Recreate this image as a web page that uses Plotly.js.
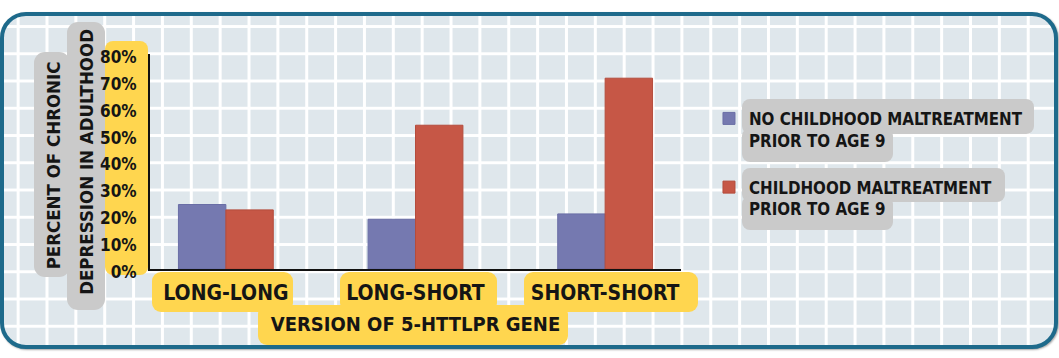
<!DOCTYPE html>
<html>
<head>
<meta charset="utf-8">
<script src="https://cdn.plot.ly/plotly-3.0.1.min.js"></script>
<style>
  html, body { margin: 0; padding: 0; background: #ffffff; }
  #wrap { position: relative; width: 1059px; height: 358px; overflow: hidden; background: #ffffff; }
  #frame {
    position: absolute; left: 0px; top: 12px; width: 1050px; height: 329px;
    border: 4px solid #1e6a8b; border-radius: 26px;
    box-shadow: 1px 1px 2px rgba(0,0,0,0.35);
    background-color: #dfe7ec;
    background-image:
      linear-gradient(to right, #ffffff 0px, #ffffff 2.5px, rgba(255,255,255,0) 2.5px),
      linear-gradient(to bottom, #ffffff 0px, #ffffff 2.5px, rgba(255,255,255,0) 2.5px);
    background-size: 28.86px 100%, 100% 27.25px;
    background-position: 12.65px 0px, 0px 9.05px;
  }
  .box { position: absolute; border-radius: 9px; }
  .y { background: #ffd64f; }
  .g { background: #cacaca; }
  #chart { position: absolute; left: 0; top: 0; width: 1059px; height: 358px; }
</style>
</head>
<body>
<div id="wrap">
  <div id="frame"></div>
  <!-- label highlight boxes (decoration) -->
  <div class="box g" style="left:34px;top:52px;width:36px;height:225px;border-radius:11px;"></div>
  <div class="box g" style="left:67px;top:22px;width:38px;height:288px;border-radius:11px;"></div>
  <div class="box y" style="left:105px;top:41px;width:43px;height:234px;border-radius:8px;"></div>
  <div class="box y" style="left:258px;top:305px;width:310px;height:40px;"></div>
  <div class="box y" style="left:152px;top:272px;width:141px;height:40px;"></div>
  <div class="box y" style="left:340px;top:272px;width:157px;height:40px;"></div>
  <div class="box y" style="left:524px;top:272px;width:174px;height:40px;"></div>
  <div class="box g" style="left:742px;top:99px;width:292px;height:35px;border-radius:8px;"></div>
  <div class="box g" style="left:742px;top:128px;width:151px;height:34px;border-radius:8px;"></div>
  <div class="box g" style="left:742px;top:168px;width:263px;height:34px;border-radius:8px;"></div>
  <div class="box g" style="left:742px;top:196px;width:151px;height:34px;border-radius:8px;"></div>
  <div id="chart"></div>
</div>
<script>
// ---- data ----
const categories = ['LONG-LONG', 'LONG-SHORT', 'SHORT-SHORT'];
const noMaltreatment = [24, 18.5, 20.5];
const maltreatment = [22, 53.5, 71];
const seriesNames = ['NO CHILDHOOD MALTREATMENT<br>PRIOR TO AGE 9', 'CHILDHOOD MALTREATMENT<br>PRIOR TO AGE 9'];
const yTickValues = [0, 10, 20, 30, 40, 50, 60, 70, 80];
const yTickLabels = ['0%', '10%', '20%', '30%', '40%', '50%', '60%', '70%', '80%'];
const xTitle = 'VERSION OF 5-HTTLPR GENE';
const yTitleLines = ['PERCENT OF CHRONIC', 'DEPRESSION IN ADULTHOOD'];

const FONT = '"DejaVu Sans Condensed", "Liberation Sans Narrow", sans-serif';
const INK = '#151515';

const traces = [
  {
    type: 'bar', x: categories, y: noMaltreatment, name: seriesNames[0], legendgroup: 'a',
    marker: { color: '#7579b0', line: { color: '#6a6ea6', width: 1 } }
  },
  {
    type: 'bar', x: categories, y: maltreatment, name: seriesNames[1], legendgroup: 'b',
    marker: { color: '#c65746', line: { color: '#b44c3c', width: 1 } }
  }
];

const layout = {
  width: 1059, height: 358,
  margin: { l: 150, r: 378, t: 54, b: 89, pad: 0, autoexpand: false },
  paper_bgcolor: 'rgba(0,0,0,0)', plot_bgcolor: 'rgba(0,0,0,0)',
  barmode: 'group', bargap: 0.5, bargroupgap: 0,
  font: { family: FONT, color: INK, weight: 700 },
  hovermode: false,
  xaxis: {
    type: 'category', range: [-0.4, 2.4],
    showline: true, linecolor: '#111111', linewidth: 2,
    showgrid: false, zeroline: false, ticks: '',
    tickfont: { family: FONT, size: 21, color: INK, weight: 700 },
    ticklabelstandoff: 4,
    title: { text: xTitle, font: { family: FONT, size: 20, color: INK, weight: 700 }, standoff: 13 }
  },
  yaxis: {
    range: [0, 80], tickvals: yTickValues, ticktext: yTickLabels,
    showline: true, linecolor: '#111111', linewidth: 2,
    showgrid: false, zeroline: false, ticks: '',
    tickfont: { family: FONT, size: 17, color: INK, weight: 700 },
    ticklabelstandoff: 8, ticklabelshift: 3
  },
  showlegend: true,
  legend: {
    x: 1.0527, xanchor: 'left', y: 0.7814, yanchor: 'top',
    bgcolor: 'rgba(0,0,0,0)', borderwidth: 0,
    traceorder: 'grouped', tracegroupgap: 22, valign: 'top',
    font: { family: FONT, size: 16.8, color: INK, weight: 700 }
  },
  annotations: [
    { text: yTitleLines[0], xref: 'paper', yref: 'paper', x: 0, y: 0.482, xshift: -97,
      xanchor: 'center', yanchor: 'middle', textangle: -90, showarrow: false,
      font: { family: FONT, size: 18.5, color: INK, weight: 700 } },
    { text: yTitleLines[1], xref: 'paper', yref: 'paper', x: 0, y: 0.496, xshift: -63.5,
      xanchor: 'center', yanchor: 'middle', textangle: -90, showarrow: false,
      font: { family: FONT, size: 18.5, color: INK, weight: 700 } }
  ]
};

Plotly.newPlot('chart', traces, layout, { displayModeBar: false, staticPlot: true });
</script>
</body>
</html>
